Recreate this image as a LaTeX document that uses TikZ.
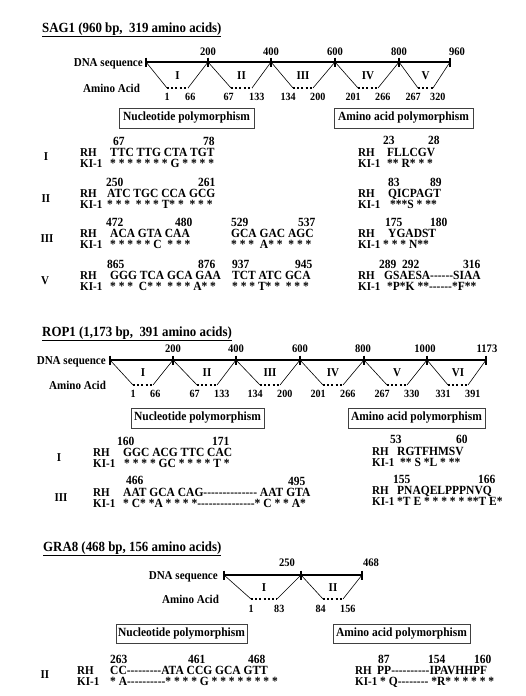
\documentclass[tikz,border=0pt]{standalone}
\usepackage{fontspec}
\setmainfont{Liberation Serif}[Ligatures=TeXOff, FakeStretch=0.92]
\usetikzlibrary{calc}

\tikzset{
  txt/.style={font=\bfseries\fontsize{12}{14}\selectfont, inner sep=0pt},
  small/.style={font=\bfseries\fontsize{11}{13}\selectfont, inner sep=0pt},
  ticklbl/.style={font=\bfseries\fontsize{11.5}{13}\selectfont, inner sep=0pt, anchor=base},
  gtitle/.style={font=\bfseries\fontsize{14}{16}\selectfont, inner sep=0pt, anchor=base west},
  dna/.style={line width=1.5pt},
  dnatick/.style={line width=1.3pt},
  link/.style={line width=0.6pt},
  aa/.style={line width=2pt, dash pattern=on 2pt off 2.2pt},
  polybox/.style={font=\bfseries\fontsize{12.5}{14}\selectfont, inner sep=0pt,
    draw=black!75, line width=0.7pt, minimum height=20pt},
  rh/.style={txt, anchor=base west},
  seq/.style={font=\bfseries\fontsize{12.5}{14}\selectfont, inner sep=0pt, anchor=base west},
  roman/.style={txt, anchor=base},
}

\begin{document}
\begin{tikzpicture}[x=1pt,y=-1pt]
  \fill[white] (0,0) rectangle (526,696);
  \useasboundingbox (0,0) rectangle (526,696);

  % SAG1 map
  \node[gtitle] (sagt) at (42,32) {\underline{SAG1 (960 bp,\ \ 319 amino acids)}};
  \foreach \i/\x in {0/146,1/208,2/271,3/335,4/399,5/450}
    \coordinate (sag\i) at (\x,62);
  \draw[dna] (sag0) -- (sag5);
  \foreach \i in {0,...,5}
    \draw[dnatick] (sag\i) ++(0,-4.5) -- ++(0,9);
  \foreach \x/\t in {208/200,271/400,335/600,399/800,457/960}
    \node[ticklbl] (sagn\t) at (\x,55) {\t};
  \node[txt,anchor=base east] (sagdna) at (143,66) {DNA sequence};
  \node[txt,anchor=base west] (sagaa) at (83,92) {Amino Acid};
  \foreach \a/\b/\l/\r/\n/\p/\q [count=\k] in
    {0/1/167/188/I/1/66, 1/2/231/252/II/67/133, 2/3/293/313/III/134/200,
     3/4/358/378/IV/201/266, 4/5/418/433/V/267/320}
  {
    \coordinate (sagl\k) at (\l,88);
    \coordinate (sagr\k) at (\r,88);
    \draw[link] (sag\a) -- (sagl\k);
    \draw[link] (sagr\k) -- (sag\b);
    \draw[aa] (sagl\k) -- (sagr\k);
    \node[roman] (sagrom\k) at ({(\l+\r)/2},79) {\n};
    \node[small,anchor=base east] (sagp\k) at (\l+3,100) {\p};
    \node[small,anchor=base west] (sagq\k) at (\r-3,100) {\q};
  }
  \node[polybox,minimum width=135pt] (sagnuc) at (186.5,118) {Nucleotide polymorphism};
  \node[polybox,minimum width=139pt] (sagami) at (403.5,118) {Amino acid polymorphism};

  % SAG1 rows
  \node[roman] (sag1I) at (46,160) {I};
  \node[rh] (sag1rh) at (80,156) {RH};
  \node[rh] (sag1ki) at (80,167) {KI-1};
  \node[seq] at (113,145) {67};
  \node[seq] at (203,145) {78};
  \node[seq] at (110,156) {TTC TTG CTA TGT};
  \node[seq] at (110,167) {* * * * * * * G * * * *};
  \node[rh] (sag1rha) at (358,156) {RH};
  \node[rh] (sag1kia) at (358,167) {KI-1};
  \node[seq] at (383,144) {23};
  \node[seq] at (428,144) {28};
  \node[seq] at (387,156) {FLLCGV};
  \node[seq] at (387,167) {** R* * *};

  \node[roman] (sag2I) at (46,202) {II};
  \node[rh] (sag2rh) at (80,197) {RH};
  \node[rh] (sag2ki) at (80,208) {KI-1};
  \node[seq] at (106,186) {250};
  \node[seq] at (198,186) {261};
  \node[seq] at (107,197) {ATC TGC CCA GCG};
  \node[seq] at (107,208) {* * *\ \ * * * T* *\ \ * * *};
  \node[rh] (sag2rha) at (358,197) {RH};
  \node[rh] (sag2kia) at (358,208) {KI-1};
  \node[seq] at (388,186) {83};
  \node[seq] at (430,186) {89};
  \node[seq] at (388,197) {QICPAGT};
  \node[seq] at (390,208) {***S * **};

  \node[roman] (sag3I) at (47,242) {III};
  \node[rh] (sag3rh) at (80,237) {RH};
  \node[rh] (sag3ki) at (80,248) {KI-1};
  \node[seq] at (106,226) {472};
  \node[seq] at (175,226) {480};
  \node[seq] at (110,237) {ACA GTA CAA};
  \node[seq] at (110,248) {* * * * * C\ \ * * *};
  \node[seq] at (231,226) {529};
  \node[seq] at (298,226) {537};
  \node[seq] at (231,237) {GCA GAC AGC};
  \node[seq] at (231,248) {* * *\ \ A* *\ \ * * *};
  \node[rh] (sag3rha) at (358,237) {RH};
  \node[rh] (sag3kia) at (358,248) {KI-1};
  \node[seq] at (385,226) {175};
  \node[seq] at (430,226) {180};
  \node[seq] at (388,237) {YGADST};
  \node[seq] at (383,248) {* * * N**};

  \node[roman] (sag5I) at (45,284) {V};
  \node[rh] (sag5rh) at (80,279) {RH};
  \node[rh] (sag5ki) at (80,290) {KI-1};
  \node[seq] at (107,268) {865};
  \node[seq] at (198,268) {876};
  \node[seq] at (110,279) {GGG TCA GCA GAA};
  \node[seq] at (110,290) {* * *\ \ C* *\ \ * * * A* *};
  \node[seq] at (232,268) {937};
  \node[seq] at (295,268) {945};
  \node[seq] at (232,279) {TCT ATC GCA};
  \node[seq] at (232,290) {* * * T* *\ \ * * *};
  \node[rh] (sag5rha) at (358,279) {RH};
  \node[rh] (sag5kia) at (358,290) {KI-1};
  \node[seq] at (379,268) {289};
  \node[seq] at (402,268) {292};
  \node[seq] at (463,268) {316};
  \node[seq] at (384,279) {GSAESA------SIAA};
  \node[seq] at (387,290) {*P*K **------*F**};

  % ROP1 map
  \node[gtitle] (ropt) at (42,336) {\underline{ROP1 (1,173 bp,\ \ 391 amino acids)}};
  \foreach \i/\x in {0/110,1/173,2/236,3/300,4/364,5/427,6/486}
    \coordinate (rop\i) at (\x,360);
  \draw[dna] (rop0) -- (rop6);
  \foreach \i in {0,...,6}
    \draw[dnatick] (rop\i) ++(0,-4.5) -- ++(0,9);
  \foreach \x/\t in {173/200,236/400,300/600,363/800,425/1000,487/1173}
    \node[ticklbl] (ropn\t) at (\x,352) {\t};
  \node[txt,anchor=base east] (ropdna) at (106,364) {DNA sequence};
  \node[txt,anchor=base west] (ropaa) at (49,389) {Amino Acid};
  \foreach \a/\b/\l/\r/\n/\p/\q [count=\k] in
    {0/1/133/153/I/1/66, 1/2/197/217/II/67/133, 2/3/260/280/III/134/200,
     3/4/323/343/IV/201/266, 4/5/387/407/V/267/330, 5/6/448/468/VI/331/391}
  {
    \coordinate (ropl\k) at (\l,385);
    \coordinate (ropr\k) at (\r,385);
    \draw[link] (rop\a) -- (ropl\k);
    \draw[link] (ropr\k) -- (rop\b);
    \draw[aa] (ropl\k) -- (ropr\k);
    \node[roman] (roprom\k) at ({(\l+\r)/2},376) {\n};
    \node[small,anchor=base east] (ropp\k) at (\l+3,397) {\p};
    \node[small,anchor=base west] (ropq\k) at (\r-3,397) {\q};
  }
  \node[polybox,minimum width=133pt] (ropnuc) at (197.5,418) {Nucleotide polymorphism};
  \node[polybox,minimum width=137pt] (ropami) at (416.5,418) {Amino acid polymorphism};

  % ROP1 rows
  \node[roman] (rop1I) at (59,461) {I};
  \node[rh] (rop1rh) at (93,456) {RH};
  \node[rh] (rop1ki) at (93,467) {KI-1};
  \node[seq] at (117,445) {160};
  \node[seq] at (212,445) {171};
  \node[seq] at (123,456) {GGC ACG TTC CAC};
  \node[seq] at (124,467) {* * * * GC * * * * T *};
  \node[rh] (rop1rha) at (372,455) {RH};
  \node[rh] (rop1kia) at (372,466) {KI-1};
  \node[seq] at (390,443) {53};
  \node[seq] at (456,443) {60};
  \node[seq] at (397,455) {RGTFHMSV};
  \node[seq] at (400,466) {** S *L * **};

  \node[roman] (rop3I) at (61,501) {III};
  \node[rh] (rop3rh) at (93,496) {RH};
  \node[rh] (rop3ki) at (93,507) {KI-1};
  \node[seq] at (126,484) {466};
  \node[seq] at (288,485) {495};
  \node[seq] at (123,496) {AAT GCA CAG-------------- AAT GTA};
  \node[seq] at (123,507) {* C* *A * * * *---------------* C * * A*};
  \node[rh] (rop3rha) at (372,494) {RH};
  \node[rh] (rop3kia) at (372,505) {KI-1};
  \node[seq] at (393,483) {155};
  \node[seq] at (478,483) {166};
  \node[seq] at (397,494) {PNAQELPPPNVQ};
  \node[seq] at (397,505) {*T E * * * * * **T E*};

  % GRA8 map
  \node[gtitle] (grat) at (43,551) {\underline{GRA8 (468 bp, 156 amino acids)}};
  \foreach \i/\x in {0/224,1/301,2/362}
    \coordinate (gra\i) at (\x,575);
  \draw[dna] (gra0) -- (gra2);
  \foreach \i in {0,...,2}
    \draw[dnatick] (gra\i) ++(0,-4.5) -- ++(0,9);
  \foreach \x/\t in {287/250,371/468}
    \node[ticklbl] (gran\t) at (\x,566) {\t};
  \node[txt,anchor=base east] (gradna) at (218,579) {DNA sequence};
  \node[txt,anchor=base west] (graaa) at (162,603) {Amino Acid};
  \foreach \a/\b/\l/\r/\n/\p/\q [count=\k] in
    {0/1/251/277/I/1/83, 1/2/323/343/II/84/156}
  {
    \coordinate (gral\k) at (\l,599);
    \coordinate (grar\k) at (\r,599);
    \draw[link] (gra\a) -- (gral\k);
    \draw[link] (grar\k) -- (gra\b);
    \draw[aa] (gral\k) -- (grar\k);
    \node[roman] (grarom\k) at ({(\l+\r)/2},591) {\n};
    \node[small,anchor=base east] (grap\k) at (\l+3,612) {\p};
    \node[small,anchor=base west] (graq\k) at (\r-3,612) {\q};
  }
  \node[polybox,minimum width=131pt,minimum height=19pt] (granuc) at (181.5,633.5) {Nucleotide polymorphism};
  \node[polybox,minimum width=137pt,minimum height=19pt] (graami) at (401.5,633.5) {Amino acid polymorphism};

  % GRA8 row
  \node[roman] (gra2I) at (45,678) {II};
  \node[rh] (gra2rh) at (77,674) {RH};
  \node[rh] (gra2ki) at (77,685) {KI-1};
  \node[seq] at (110,663) {263};
  \node[seq] at (188,663) {461};
  \node[seq] at (248,663) {468};
  \node[seq] at (110,674) {CC---------ATA CCG GCA GTT};
  \node[seq] at (110,685) {* A----------* * * * G * * * * * * * *};
  \node[rh] (gra2rha) at (355,674) {RH};
  \node[rh] (gra2kia) at (355,685) {KI-1};
  \node[seq] at (378,663) {87};
  \node[seq] at (428,663) {154};
  \node[seq] at (474,663) {160};
  \node[seq] at (377,674) {PP----------IPAVHHPF};
  \node[seq] at (380,685) {* Q-------- *R* * * * * *};
\end{tikzpicture}
\end{document}
